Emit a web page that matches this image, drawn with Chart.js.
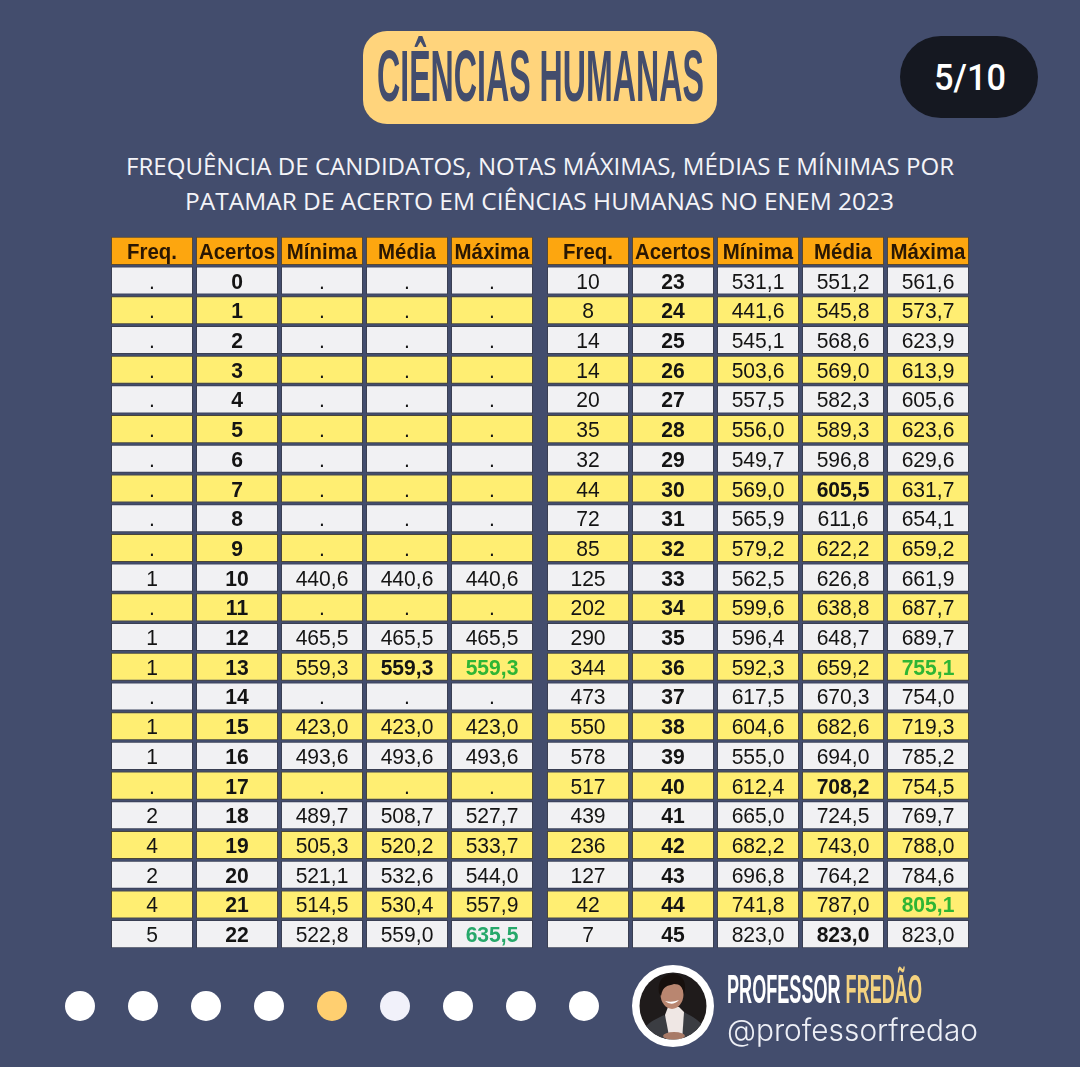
<!DOCTYPE html>
<html lang="pt-BR"><head><meta charset="utf-8">
<script src="https://cdn.jsdelivr.net/npm/chart.js@4"></script>
<style>
html,body{margin:0;padding:0;width:1080px;height:1067px;overflow:hidden;background:#434d6d}
.t{position:absolute;white-space:nowrap;transform-origin:0 0}
.sh{position:absolute}
canvas{position:absolute;left:0;top:0}
</style></head><body>
<div class="sh" style="left:363px;top:31px;width:354px;height:93px;border-radius:24px;background:#ffd47c"></div>
<div class="t fit" data-w="327" style="left:377px;top:35px;font:bold 72px 'Liberation Sans Narrow','Liberation Sans';color:#434d6d">CIÊNCIAS HUMANAS</div>
<div class="sh" style="left:900px;top:36px;width:138px;height:82px;border-radius:41px;background:#151821"></div>
<div class="t fit" data-w="72" style="left:934px;top:56px;font:500 37px Roboto;color:#fff">5/10</div>
<div class="t fit" data-w="828" style="left:126px;top:149px;font:400 24px 'Open Sans';color:#f4f4f8">FREQUÊNCIA DE CANDIDATOS, NOTAS MÁXIMAS, MÉDIAS E MÍNIMAS POR</div>
<div class="t fit" data-w="709" style="left:185px;top:184px;font:400 24px 'Open Sans';color:#f4f4f8">PATAMAR DE ACERTO EM CIÊNCIAS HUMANAS NO ENEM 2023</div>
<canvas id="c" width="1080" height="1067"></canvas>
<div id="dots"></div>
<svg class="sh" style="left:632px;top:965px" width="82" height="82" viewBox="0 0 82 82">
<defs><clipPath id="a"><circle cx="41" cy="41" r="33.5"/></clipPath></defs>
<circle cx="41" cy="41" r="41" fill="#fff"/>
<g clip-path="url(#a)"><rect width="82" height="82" fill="#1f1b1b"/>
<path d="M6 82C8 60 20 56 32 50L41 60L52 47C64 54 76 58 78 82Z" fill="#3b3d42"/>
<path d="M33 50L38 76H50L52 47L47 42H36Z" fill="#efe7e4"/>
<ellipse cx="40" cy="29" rx="11.5" ry="15" fill="#b98670"/>
<path d="M27 28C25 13 34 9 42 9C52 10 55 19 52 30C51 22 48 19 42 19C36 21 31 20 29 31Z" fill="#17100d"/>
<path d="M33 36Q40 42 47 35Q40 38 33 36Z" fill="#fff"/>
<ellipse cx="42" cy="71" rx="11" ry="4" fill="#a87a66"/></g></svg>
<div class="t fit" data-w="195" style="left:727px;top:967px;font:bold 40px 'Liberation Sans Narrow','Liberation Sans';color:#fff">PROFESSOR <span style="color:#f4d27f">FREDÃO</span></div>
<div class="t fit" data-w="251" style="left:727px;top:1012px;font:300 30px Inter;color:#eef0f6">@professorfredao</div>
<script>
const headers = ["Freq.", "Acertos", "Mínima", "Média", "Máxima"];
const acertos = [0,1,2,3,4,5,6,7,8,9,10,11,12,13,14,15,16,17,18,19,20,21,22,23,24,25,26,27,28,29,30,31,32,33,34,35,36,37,38,39,40,41,42,43,44,45];
const freq = [null,null,null,null,null,null,null,null,null,null,1,null,1,1,null,1,1,null,2,4,2,4,5,10,8,14,14,20,35,32,44,72,85,125,202,290,344,473,550,578,517,439,236,127,42,7];
const minima = [null,null,null,null,null,null,null,null,null,null,440.6,null,465.5,559.3,null,423.0,493.6,null,489.7,505.3,521.1,514.5,522.8,531.1,441.6,545.1,503.6,557.5,556.0,549.7,569.0,565.9,579.2,562.5,599.6,596.4,592.3,617.5,604.6,555.0,612.4,665.0,682.2,696.8,741.8,823.0];
const media = [null,null,null,null,null,null,null,null,null,null,440.6,null,465.5,559.3,null,423.0,493.6,null,508.7,520.2,532.6,530.4,559.0,551.2,545.8,568.6,569.0,582.3,589.3,596.8,605.5,611.6,622.2,626.8,638.8,648.7,659.2,670.3,682.6,694.0,708.2,724.5,743.0,764.2,787.0,823.0];
const maxima = [null,null,null,null,null,null,null,null,null,null,440.6,null,465.5,559.3,null,423.0,493.6,null,527.7,533.7,544.0,557.9,635.5,561.6,573.7,623.9,613.9,605.6,623.6,629.6,631.7,654.1,659.2,661.9,687.7,689.7,755.1,754.0,719.3,785.2,754.5,769.7,788.0,784.6,805.1,823.0];
const boldMedia = [13,30,40,45];
const greenMaxima = [13,22,36,44];
const rowsPerTable = 23;

const fmt1 = v => v === null ? "." : v.toFixed(1).replace(".", ",");
const fmt0 = v => v === null ? "." : String(v);
const columns = [
  {values: freq, fmt: fmt0}, {values: acertos, fmt: fmt0, bold: true},
  {values: minima, fmt: fmt1}, {values: media, fmt: fmt1}, {values: maxima, fmt: fmt1}
];
const rowLabels = ["head"].concat(Array.from({length: rowsPerTable}, (_, i) => "r" + i));
const PITCH = 85, CELL = 82, TABLE_STEP = 436;
const datasets = [];
for (let t = 0; t < 2; t++) columns.forEach((col, c) => {
  const start = t * TABLE_STEP + c * PITCH;
  const data = rowLabels.map(() => [start, start + CELL]);
  datasets.push({
    data, col, c, t,
    backgroundColor: rowLabels.map((_, r) => r === 0 ? "#fda60f" : (r % 2 ? "#f1f1f3" : "#ffee72")),
    borderColor: rowLabels.map((_, r) => r === 0 ? "#5a4a30" : (r % 2 ? "#3a3f52" : "#4a4636")),
    borderWidth: 1, borderSkipped: false,
    barPercentage: 0.945, categoryPercentage: 1, grouped: false
  });
});
const cellText = {
  id: "cellText",
  afterDatasetsDraw(chart) {
    const g = chart.ctx; g.save(); g.textAlign = "center"; g.textBaseline = "alphabetic";
    chart.data.datasets.forEach((ds, di) => {
      chart.getDatasetMeta(di).data.forEach((el, r) => {
        const p = el.getProps(["x", "base", "y"], true);
        const cx = (p.x + p.base) / 2;
        let txt, color = "#141414", font = "21.5px 'Liberation Sans'", squeeze = 0.98;
        if (r === 0) {
          txt = headers[ds.c]; color = "#2a1703"; font = "bold 21.5px 'Liberation Sans'"; squeeze = 0.95;
        } else {
          const idx = ds.t * rowsPerTable + r - 1;
          const v = ds.col.values[idx];
          txt = ds.col.fmt(v);
          if (ds.col.bold) { font = "bold 22px 'Liberation Sans'"; squeeze = 0.96; }
          if (ds.col.values === media && boldMedia.includes(idx)) font = "bold 21.5px 'Liberation Sans'";
          if (ds.col.values === maxima && greenMaxima.includes(idx)) {
            font = "bold 21.5px 'Liberation Sans'"; color = idx === 22 ? "#26a86a" : "#2fb534";
          }
        }
        g.font = font; g.fillStyle = color;
        g.fillText(txt, cx, p.y + 8, g.measureText(txt).width * squeeze);
      });
    });
    g.restore();
  }
};
new Chart(document.getElementById("c"), {
  type: "bar",
  data: {labels: rowLabels, datasets},
  plugins: [cellText],
  options: {
    indexAxis: "y", responsive: false, animation: false, devicePixelRatio: 1,
    layout: {padding: {left: 111, right: 111, top: 236, bottom: 118}},
    plugins: {legend: {display: false}, tooltip: {enabled: false}, title: {display: false}},
    events: [],
    scales: {
      x: {type: "linear", min: 0, max: 858, display: false},
      y: {type: "category", display: false, offset: true}
    }
  }
});
const dotColors = ["#fff","#fff","#fff","#fff","#ffcf70","#f1f1fa","#fff","#fff","#fff"];
document.getElementById("dots").innerHTML = dotColors.map((c, i) =>
  `<div class="sh" style="left:${65 + i * 63}px;top:991px;width:30px;height:30px;border-radius:50%;background:${c}"></div>`).join("");
document.querySelectorAll(".fit").forEach(el => {
  const w = el.getBoundingClientRect().width;
  el.style.transform = `scaleX(${el.dataset.w / w})`;
});
</script>
</body></html>
